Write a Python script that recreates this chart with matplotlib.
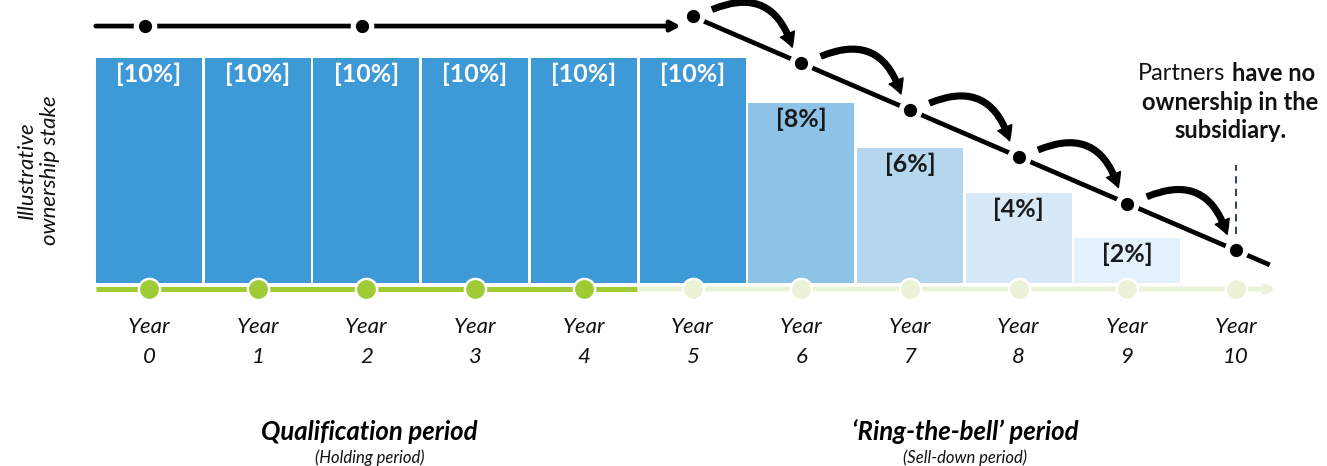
import matplotlib
matplotlib.use("Agg")
import matplotlib.pyplot as plt
from matplotlib.patches import FancyArrowPatch

plt.rcParams["font.family"] = ["Lato", "DejaVu Sans"]

# ---- data -------------------------------------------------------------
years = list(range(11))
year_numbers = [str(y) for y in years]
stake = [10, 10, 10, 10, 10, 10, 8, 6, 4, 2]          # % held at each year
bar_labels = [f"[{v}%]" for v in stake]
bar_colors = ["#3E9AD6"] * 6 + ["#8CC3E7", "#B5D7EE", "#D7E9F6", "#E5F1FA"]
label_colors = ["white"] * 6 + ["#1A1A1A"] * 4

qualification_years = [0, 1, 2, 3, 4]
sell_years = [5, 6, 7, 8, 9, 10]
sell_stake = [10, 8, 6, 4, 2, 0]
hold_dot_years = [0, 2]

# ---- styling ----------------------------------------------------------
GREEN = "#9FCC35"
PALE_GREEN = "#EAF3D8"
NAVY = "#1F2F5A"
BLACK = "#000000"

fig = plt.figure(figsize=(13.27, 4.66), dpi=100)
ax = fig.add_axes([0, 0, 1, 1])
ax.set_xlim(-1.371, 10.837)
ax.set_ylim(-8.133, 12.578)
ax.axis("off")

# px -> data helpers for small offsets
PX_X = 1 / 108.7
PX_Y = 1 / 22.5

# ---- bars -------------------------------------------------------------
ax.bar(years[:len(stake)], stake, width=0.975, color=bar_colors, zorder=2)
for x, v, lab, c in zip(years, stake, bar_labels, label_colors):
    ax.annotate(lab, (x, v), xytext=(0, -12), textcoords="offset points",
                ha="center", va="center", fontsize=18, fontweight="bold",
                color=c, zorder=5)

# ---- timeline at the base ----------------------------------------------
base_y = -0.27
ax.plot([-0.49, 4.49], [base_y, base_y], color=GREEN, lw=3.6,
        solid_capstyle="butt", zorder=3)
ax.annotate("", xy=(10.37, base_y), xytext=(4.53, base_y),
            arrowprops=dict(arrowstyle="-|>,head_length=0.45,head_width=0.22",
                            color=PALE_GREEN, lw=3.6, shrinkA=0, shrinkB=0),
            zorder=3)
for y in years:
    face = GREEN if y in qualification_years else PALE_GREEN
    ax.plot(y, base_y, "o", ms=16, color="white", zorder=4)
    ax.plot(y, base_y, "o", ms=12.5, color=face, zorder=5)

# year labels
for x, n in zip(years, year_numbers):
    ax.text(x, -1.97, "Year", ha="center", va="center", fontsize=16,
            style="italic", color="#111111")
    ax.text(x, -3.27, n, ha="center", va="center", fontsize=16,
            style="italic", color="#111111")

# ---- holding-period arrow ---------------------------------------------
top_y = 11.42
ax.annotate("", xy=(4.89, top_y), xytext=(-0.49, top_y),
            arrowprops=dict(arrowstyle="-|>,head_length=0.55,head_width=0.3",
                            color=BLACK, lw=3.4, shrinkA=0, shrinkB=0),
            zorder=3)
for x in hold_dot_years:
    ax.plot(x - 0.04, top_y, "o", ms=16, color="white", zorder=4)
    ax.plot(x - 0.04, top_y, "o", ms=8.5, color=BLACK, zorder=5)

# ---- sell-down line -----------------------------------------------------
sell_y = [1.45 + 1.04 * v for v in sell_stake]
step = sell_y[-1] - sell_y[-2]
end_x = sell_years[-1] + 0.31
end_y = sell_y[-1] + step * 0.31
ax.plot([sell_years[0], end_x], [sell_y[0], end_y], color=BLACK, lw=3.4,
        solid_capstyle="butt", zorder=3)
for x, y in zip(sell_years, sell_y):
    ax.plot(x, y, "o", ms=16, color="white", zorder=4)
    ax.plot(x, y, "o", ms=8.5, color=BLACK, zorder=5)

# curved hop arrows between consecutive sell-down points
for (x0, y0), (x1, y1) in zip(zip(sell_years[:-1], sell_y[:-1]),
                              zip(sell_years[1:], sell_y[1:])):
    arr = FancyArrowPatch(
        (x0 + 20 * PX_X, y0 + 7 * PX_Y), (x1 - 9 * PX_X, y1 + 16 * PX_Y),
        connectionstyle="arc3,rad=-0.55",
        arrowstyle="simple,head_length=10,head_width=11,tail_width=4",
        mutation_scale=1, color=BLACK, shrinkA=0, shrinkB=0, zorder=6)
    ax.add_patch(arr)

# dashed marker at the final year
ax.plot([sell_years[-1], sell_years[-1]], [2.2, 5.25], color=NAVY, lw=1.3,
        ls=(0, (4, 3)), zorder=2)

# ---- annotation text --------------------------------------------------
split_x = 9.93
ax.text(split_x - 0.03, 9.33, "Partners", ha="right", va="center",
        fontsize=17, color="#111111")
ax.text(split_x + 0.03, 9.33, "have no", ha="left", va="center",
        fontsize=17, fontweight="bold", color="#111111")
ax.text(9.95, 8.04, "ownership in the", ha="center", va="center",
        fontsize=17, fontweight="bold", color="#111111")
ax.text(9.95, 6.76, "subsidiary.", ha="center", va="center",
        fontsize=17, fontweight="bold", color="#111111")

ax.text(-1.02, 5.02, "Illustrative\nownership stake", rotation=90,
        ha="center", va="center", fontsize=16, style="italic",
        linespacing=1.2, color="#111111")

ax.text(2.03, -6.62, "Qualification period", ha="center", va="center",
        fontsize=18.5, fontweight="bold", style="italic", color="#000000")
ax.text(2.03, -7.78, "(Holding period)", ha="center", va="center",
        fontsize=12, style="italic", color="#111111")
ax.text(7.51, -6.62, "\u2018Ring-the-bell\u2019 period", ha="center",
        va="center", fontsize=18.5, fontweight="bold", style="italic",
        color="#000000")
ax.text(7.51, -7.78, "(Sell-down period)", ha="center", va="center",
        fontsize=12, style="italic", color="#111111")

fig.savefig("out.png", dpi=100)
